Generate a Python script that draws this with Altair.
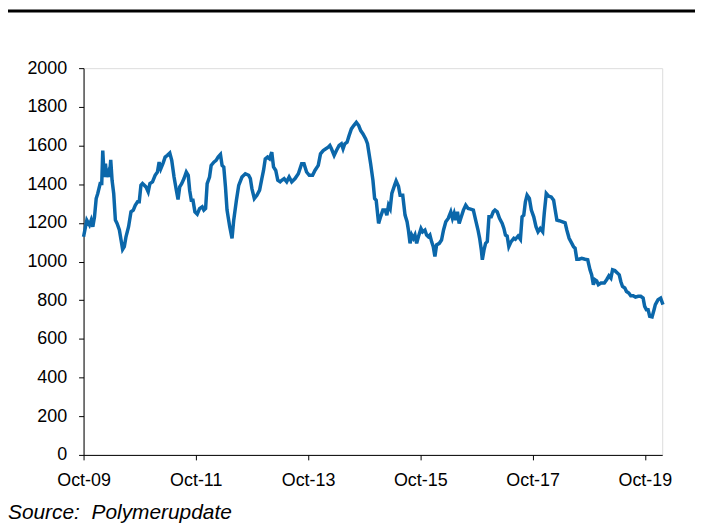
import altair as alt
import pandas as pd

# years elapsed since Oct-2009 and price values
years_since_oct09 = [
    0.000, 0.058, 0.106, 0.136, 0.165, 0.195, 0.225, 0.253, 0.296, 0.324,
    0.342, 0.367, 0.390, 0.413, 0.443, 0.461, 0.484, 0.508, 0.537, 0.567,
    0.597, 0.638, 0.668, 0.696, 0.726, 0.756, 0.802, 0.845, 0.886, 0.921,
    0.962, 0.992, 1.022, 1.050, 1.111, 1.151, 1.182, 1.228, 1.275, 1.316,
    1.346, 1.376, 1.417, 1.453, 1.493, 1.536, 1.571, 1.612, 1.653, 1.683,
    1.713, 1.748, 1.789, 1.830, 1.865, 1.890, 1.919, 1.949, 1.984, 2.025,
    2.067, 2.113, 2.143, 2.174, 2.202, 2.244, 2.273, 2.321, 2.361, 2.397,
    2.439, 2.468, 2.498, 2.528, 2.556, 2.604, 2.645, 2.675, 2.723, 2.764,
    2.822, 2.882, 2.941, 2.971, 2.999, 3.042, 3.088, 3.136, 3.176, 3.206,
    3.237, 3.277, 3.313, 3.353, 3.384, 3.424, 3.460, 3.502, 3.531, 3.573,
    3.619, 3.662, 3.708, 3.768, 3.826, 3.885, 3.927, 3.973, 4.021, 4.080,
    4.122, 4.181, 4.221, 4.269, 4.317, 4.358, 4.388, 4.416, 4.464, 4.505,
    4.553, 4.593, 4.623, 4.654, 4.694, 4.730, 4.771, 4.813, 4.859, 4.902,
    4.937, 4.978, 5.026, 5.058, 5.114, 5.155, 5.185, 5.213, 5.256, 5.291,
    5.332, 5.373, 5.403, 5.433, 5.462, 5.492, 5.540, 5.568, 5.610, 5.639,
    5.686, 5.727, 5.763, 5.787, 5.816, 5.846, 5.876, 5.904, 5.934, 5.965,
    6.011, 6.041, 6.081, 6.111, 6.142, 6.170, 6.200, 6.230, 6.259, 6.289,
    6.337, 6.377, 6.413, 6.453, 6.496, 6.542, 6.572, 6.602, 6.631, 6.661,
    6.691, 6.719, 6.767, 6.808, 6.850, 6.896, 6.944, 6.985, 7.027, 7.056,
    7.086, 7.104, 7.134, 7.162, 7.192, 7.222, 7.263, 7.298, 7.329, 7.369,
    7.410, 7.458, 7.488, 7.516, 7.546, 7.576, 7.617, 7.665, 7.693, 7.741,
    7.782, 7.812, 7.842, 7.871, 7.901, 7.942, 7.977, 8.020, 8.060, 8.096,
    8.136, 8.179, 8.207, 8.243, 8.285, 8.331, 8.374, 8.402, 8.432, 8.473,
    8.521, 8.579, 8.609, 8.650, 8.698, 8.728, 8.756, 8.787, 8.827, 8.875,
    8.934, 8.981, 9.022, 9.052, 9.082, 9.111, 9.141, 9.171, 9.217, 9.277,
    9.318, 9.359, 9.394, 9.424, 9.465, 9.513, 9.543, 9.571, 9.601, 9.642,
    9.672, 9.713, 9.748, 9.791, 9.832, 9.880, 9.926, 9.968, 9.996, 10.027,
    10.057, 10.085, 10.128, 10.163, 10.186, 10.234, 10.280, 10.322,
]
values = [
    1128, 1214, 1189, 1214, 1180, 1231, 1326, 1352, 1403, 1403,
    1574, 1437, 1506, 1437, 1463, 1437, 1526, 1420, 1352, 1214,
    1197, 1163, 1111, 1063, 1077, 1128, 1180, 1257, 1266, 1291,
    1309, 1309, 1394, 1403, 1386, 1360, 1403, 1412, 1446, 1463,
    1514, 1480, 1509, 1540, 1549, 1561, 1523, 1437, 1369, 1321,
    1386, 1403, 1429, 1463, 1446, 1369, 1317, 1317, 1257, 1245,
    1274, 1283, 1266, 1274, 1403, 1437, 1497, 1514, 1523, 1540,
    1554, 1497, 1489, 1386, 1266, 1180, 1120, 1214, 1317, 1394,
    1437, 1454, 1446, 1429, 1377, 1326, 1343, 1369, 1429, 1471,
    1531, 1540, 1531, 1566, 1489, 1471, 1420, 1412, 1420, 1429,
    1412, 1437, 1412, 1429, 1454, 1506, 1506, 1463, 1446, 1446,
    1471, 1497, 1557, 1574, 1583, 1591, 1600, 1583, 1549, 1574,
    1600, 1609, 1583, 1609, 1617, 1651, 1686, 1703, 1720, 1703,
    1677, 1660, 1634, 1609, 1506, 1420, 1326, 1317, 1197, 1231,
    1266, 1266, 1240, 1291, 1274, 1352, 1394, 1417, 1389, 1343,
    1343, 1240, 1206, 1163, 1094, 1137, 1120, 1137, 1094, 1128,
    1171, 1154, 1163, 1137, 1128, 1137, 1103, 1077, 1026, 1086,
    1094, 1111, 1163, 1206, 1223, 1257, 1223, 1249, 1214, 1257,
    1197, 1223, 1266, 1291, 1274, 1271, 1266, 1214, 1163, 1120,
    1060, 1009, 1060, 1094, 1103, 1231, 1231, 1257, 1266, 1257,
    1223, 1197, 1171, 1137, 1132, 1077, 1103, 1120, 1115, 1132,
    1115, 1231, 1240, 1309, 1343, 1326, 1266, 1231, 1180, 1154,
    1171, 1154, 1249, 1352, 1338, 1334, 1317, 1266, 1214, 1211,
    1206, 1200, 1163, 1120, 1094, 1077, 1069, 1012, 1012, 1017,
    1012, 1009, 957, 931, 880, 906, 900, 880, 889, 889,
    906, 926, 914, 957, 953, 940, 931, 897, 871, 863,
    845, 837, 823, 823, 816, 820, 820, 811, 768, 751,
    751, 717, 714, 751, 777, 803, 811, 777,
]
y_ticks = [0, 200, 400, 600, 800, 1000, 1200, 1400, 1600, 1800, 2000]
x_tick_years = [2009, 2011, 2013, 2015, 2017, 2019]
source_text = "Source:\u00a0 Polymerupdate"

start = pd.Timestamp("2009-10-01")
df = pd.DataFrame({
    "date": [start + pd.Timedelta(days=y * 365.25) for y in years_since_oct09],
    "value": values,
})

W, H = 582, 389
FONT = "Liberation Sans"

x_enc = alt.X(
    "date:T",
    scale=alt.Scale(domain=[alt.DateTime(year=2009, month=10, date=1),
                            alt.DateTime(year=2020, month=1, date=22)]),
    axis=alt.Axis(
        title=None, grid=False, format="%b-%y",
        values=[alt.DateTime(year=y, month=10, date=1) for y in x_tick_years],
        labelFont=FONT, labelFontSize=18, labelColor="black",
        tickSize=5, tickColor="black", domainColor="black",
        labelPadding=12, labelFlush=False, labelOverlap=False,
    ),
)
y_enc = alt.Y(
    "value:Q",
    scale=alt.Scale(domain=[0, 2000], nice=False),
    axis=alt.Axis(
        title=None, grid=False, values=y_ticks, format="d",
        labelFont=FONT, labelFontSize=18, labelColor="black",
        tickSize=5, tickColor="black", domainColor="black",
        labelPadding=12,
    ),
)

line = alt.Chart(df).mark_line(color="#0B67AA", strokeWidth=3.5).encode(x=x_enc, y=y_enc)

src = alt.Chart(pd.DataFrame({"t": [source_text]})).mark_text(
    align="left", baseline="alphabetic", font=FONT, fontSize=21,
    fontStyle="italic", color="black",
).encode(x=alt.value(-76), y=alt.value(453), text="t:N")

top_rule = alt.Chart(pd.DataFrame({"t": [0]})).mark_rule(
    color="black", strokeWidth=3
).encode(x=alt.value(-76), x2=alt.value(615), y=alt.value(-57.5))

chart = alt.layer(line, src, top_rule).properties(
    width=W, height=H,
    autosize=alt.AutoSizeParams(type="none"),
    padding={"left": 76, "top": 59, "right": 33, "bottom": 70},
).configure_view(stroke=None).configure(background="white")

chart.save("out.html", embed_options={"renderer": "svg", "actions": False})
